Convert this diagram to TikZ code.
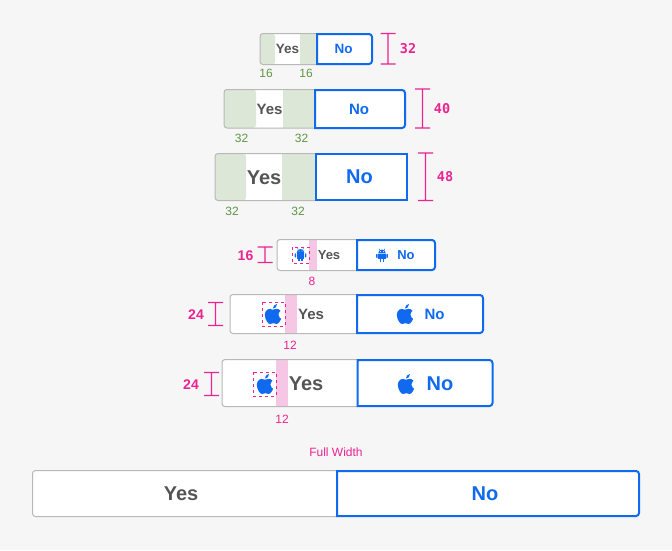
\documentclass[tikz,border=0pt]{standalone}
\usepackage{fontspec}
\setmainfont{Liberation Sans}
\newfontfamily\monofnt{DejaVu Sans Mono}
\definecolor{pagebg}{HTML}{F6F6F6}
\definecolor{edgegray}{HTML}{B8B8B8}
\definecolor{yesgray}{HTML}{555555}
\definecolor{noblue}{HTML}{0F6AF0}
\definecolor{dimpink}{HTML}{EC2390}
\definecolor{bandpink}{HTML}{F6C7E4}
\definecolor{bandgreen}{HTML}{DDE7D8}
\definecolor{numgreen}{HTML}{5F9545}
\tikzset{
  yesedge/.style={draw=edgegray, line width=1pt, rounded corners=3pt},
  noedge/.style={draw=noblue, fill=white, line width=2pt},
  dimbar/.style={fill=dimpink},
  iconbox/.style={draw=dimpink, line width=0.9pt, dash pattern=on 3pt off 3pt},
  yeslabel/.style={text=yesgray, font=\bfseries, inner sep=0pt},
  nolabel/.style={text=noblue, font=\bfseries, inner sep=0pt},
  dimnum/.style={text=dimpink, font=\monofnt\bfseries\fontsize{13.5}{13.5}\selectfont, inner sep=0pt},
  pinknum/.style={text=dimpink, font=\fontsize{12}{12}\selectfont, inner sep=0pt},
  greennum/.style={text=numgreen, font=\fontsize{12}{12}\selectfont, inner sep=0pt},
  appleicon/.pic={
    \fill[noblue, shift={(-12,-12)}] (18.71,19.5) .. controls (17.88,20.74) and (17,21.95) .. (15.66,21.97)
      .. controls (14.32,22) and (13.89,21.18) .. (12.37,21.18)
      .. controls (10.84,21.18) and (10.37,21.95) .. (9.1,22)
      .. controls (7.79,22.05) and (6.8,20.68) .. (5.96,19.47)
      .. controls (4.25,17) and (2.94,12.45) .. (4.7,9.39)
      .. controls (5.57,7.87) and (7.13,6.91) .. (8.82,6.88)
      .. controls (10.1,6.86) and (11.32,7.75) .. (12.11,7.75)
      .. controls (12.89,7.75) and (14.37,6.68) .. (15.92,6.84)
      .. controls (16.57,6.87) and (18.39,7.1) .. (19.56,8.82)
      .. controls (19.47,8.88) and (17.39,10.1) .. (17.41,12.63)
      .. controls (17.44,15.65) and (20.06,16.66) .. (20.09,16.67)
      .. controls (20.06,16.74) and (19.67,18.11) .. (18.71,19.5) -- cycle
      (13,3.5) .. controls (13.73,2.67) and (14.94,2.04) .. (15.94,2)
      .. controls (16.07,3.17) and (15.6,4.35) .. (14.9,5.19)
      .. controls (14.21,6.04) and (13.07,6.7) .. (11.95,6.61)
      .. controls (11.8,5.46) and (12.36,4.26) .. (13,3.5) -- cycle;
  },
  androidicon/.pic={
    \fill[noblue] (-3.8,-2.2) arc[start angle=180, end angle=360, radius=3.8] -- cycle;
    \fill[noblue] (-3.8,-1.6) rectangle (3.8,3.6);
    \fill[noblue, rounded corners=0.5pt] (-5.8,-1.6) rectangle (-4.4,2.4);
    \fill[noblue, rounded corners=0.5pt] (4.4,-1.6) rectangle (5.8,2.4);
    \fill[noblue] (-2.4,3.6) rectangle (-0.8,6.2);
    \fill[noblue] (0.8,3.6) rectangle (2.4,6.2);
    \draw[noblue, line width=0.6pt] (-2.2,-5.6) -- (-3,-6.6) (2.2,-5.6) -- (3,-6.6);
    \fill[white] (-1.5,-3.9) circle (0.45) (1.5,-3.9) circle (0.45);
  }
}
\newcommand{\nobutton}[4]{\draw[noedge] (#1,#3) [rounded corners=3pt] -- (#2,#3) -- (#2,#4) [sharp corners] -- (#1,#4) -- cycle;}
\newcommand{\dimension}[3]{\fill[dimbar] ({#1-7.5},{#2-0.7}) rectangle ({#1+7.5},{#2+0.7}) ({#1-0.7},#2) rectangle ({#1+0.7},#3) ({#1-7.5},{#3-0.7}) rectangle ({#1+7.5},{#3+0.7});}
\begin{document}
\begin{tikzpicture}[x=1pt,y=-1pt]
  \useasboundingbox (0,0) rectangle (672,550);
  \fill[pagebg] (0,0) rectangle (672,550);

  \fill[white, rounded corners=3pt] (316,33.5) -| (260,64.5) -- (316,64.5) -- cycle;
  \fill[bandgreen, rounded corners=3pt] (275,33.5) -| (260,64.5) -- (275,64.5) -- cycle;
  \fill[bandgreen] (300,33.5) rectangle (316,64.5);
  \draw[yesedge] (316,33.5) -| (260,64.5) -- (316,64.5);
  \nobutton{317}{372}{34}{64}
  \node[yeslabel, font=\bfseries\fontsize{13.5}{13.5}\selectfont] (yesA) at (287.5,49) {Yes};
  \node[nolabel, font=\bfseries\fontsize{13.5}{13.5}\selectfont] (noA) at (343.5,49) {No};
  \node[greennum] (numAa) at (266,73.5) {16};
  \node[greennum] (numAb) at (306,73.5) {16};
  \dimension{388}{33.5}{64}
  \node[dimnum] (dimA) at (408,49) {32};

  \fill[white, rounded corners=3pt] (314,89.5) -| (224,128) -- (314,128) -- cycle;
  \fill[bandgreen, rounded corners=3pt] (256,89.5) -| (224,128) -- (256,128) -- cycle;
  \fill[bandgreen] (283,89.5) rectangle (314,128);
  \draw[yesedge] (314,89.5) -| (224,128) -- (314,128);
  \nobutton{315}{405}{90}{128}
  \node[yeslabel, font=\bfseries\fontsize{15}{15}\selectfont] (yesB) at (269.5,109) {Yes};
  \node[nolabel, font=\bfseries\fontsize{15}{15}\selectfont] (noB) at (359,109) {No};
  \node[greennum] (numBa) at (241.5,138.5) {32};
  \node[greennum] (numBb) at (301.5,138.5) {32};
  \dimension{422.5}{89}{128}
  \node[dimnum] (dimB) at (442,109) {40};

  \fill[white, rounded corners=3pt] (315,153.5) -| (215,200.5) -- (315,200.5) -- cycle;
  \fill[bandgreen, rounded corners=3pt] (246,153.5) -| (215,200.5) -- (246,200.5) -- cycle;
  \fill[bandgreen] (282,153.5) rectangle (315,200.5);
  \draw[yesedge] (315,153.5) -| (215,200.5) -- (315,200.5);
  \draw[noedge] (315.5,154) rectangle (407,200);
  \node[yeslabel, font=\bfseries\fontsize{20}{20}\selectfont] (yesC) at (264,177.5) {Yes};
  \node[nolabel, font=\bfseries\fontsize{20}{20}\selectfont] (noC) at (359.5,177) {No};
  \node[greennum] (numCa) at (232,211) {32};
  \node[greennum] (numCb) at (298,211) {32};
  \dimension{425.5}{153}{200.5}
  \node[dimnum] (dimC) at (445,177) {48};

  \fill[white, rounded corners=3pt] (356,239.5) -| (277,270.5) -- (356,270.5) -- cycle;
  \fill[bandpink] (308.5,239.5) rectangle (316.5,270.5);
  \draw[yesedge] (356,239.5) -| (277,270.5) -- (356,270.5);
  \nobutton{357}{435}{240}{270}
  \pic at (300.5,255) {androidicon};
  \draw[iconbox] (292,247) rectangle (309,263);
  \pic at (382,255.5) {androidicon};
  \node[yeslabel, font=\bfseries\fontsize{13}{13}\selectfont] (yesD) at (329,255.5) {Yes};
  \node[nolabel, font=\bfseries\fontsize{13}{13}\selectfont] (noD) at (406,255.5) {No};
  \node[pinknum] (numD) at (312,281) {8};
  \dimension{265}{247}{262.5}
  \node[text=dimpink, font=\bfseries\fontsize{14}{14}\selectfont, inner sep=0pt] (dimD) at (245.5,255.5) {16};

  \fill[white, rounded corners=3pt] (356,294.5) -| (230,333.5) -- (356,333.5) -- cycle;
  \fill[bandpink] (285,294.5) rectangle (297,333.5);
  \draw[yesedge] (356,294.5) -| (230,333.5) -- (356,333.5);
  \nobutton{357}{483}{295}{333}
  \pic at (273,314) {appleicon};
  \draw[iconbox] (262,302) rectangle (285,326);
  \pic at (405,314) {appleicon};
  \node[yeslabel, font=\bfseries\fontsize{15}{15}\selectfont] (yesE) at (311,314.5) {Yes};
  \node[nolabel, font=\bfseries\fontsize{15}{15}\selectfont] (noE) at (434.5,314.5) {No};
  \node[pinknum] (numE) at (290,345) {12};
  \dimension{215.5}{302.5}{325.5}
  \node[text=dimpink, font=\bfseries\fontsize{14}{14}\selectfont, inner sep=0pt] (dimE) at (196,314.5) {24};

  \fill[white, rounded corners=3pt] (357,359.5) -| (222,406.5) -- (357,406.5) -- cycle;
  \fill[bandpink] (276,359.5) rectangle (288,406.5);
  \draw[yesedge] (357,359.5) -| (222,406.5) -- (357,406.5);
  \nobutton{357.5}{492.5}{360}{406}
  \pic at (265,384) {appleicon};
  \draw[iconbox] (253,372) rectangle (276,396);
  \pic at (406,384) {appleicon};
  \node[yeslabel, font=\bfseries\fontsize{20}{20}\selectfont] (yesF) at (306,384) {Yes};
  \node[nolabel, font=\bfseries\fontsize{20}{20}\selectfont] (noF) at (440,384) {No};
  \node[pinknum] (numF) at (282,419) {12};
  \dimension{211.5}{372.5}{395.5}
  \node[text=dimpink, font=\bfseries\fontsize{14}{14}\selectfont, inner sep=0pt] (dimF) at (191,384.5) {24};

  \node[text=dimpink, font=\fontsize{12}{12}\selectfont, inner sep=0pt] (fullwidth) at (336,452) {Full Width};
  \fill[white, rounded corners=3pt] (336,470.5) -| (32.5,516.5) -- (336,516.5) -- cycle;
  \draw[yesedge] (336,470.5) -| (32.5,516.5) -- (336,516.5);
  \nobutton{337}{639}{471}{516}
  \node[yeslabel, font=\bfseries\fontsize{20}{20}\selectfont] (yesG) at (181,493.5) {Yes};
  \node[nolabel, font=\bfseries\fontsize{20}{20}\selectfont] (noG) at (485,493.5) {No};
\end{tikzpicture}
\end{document}
